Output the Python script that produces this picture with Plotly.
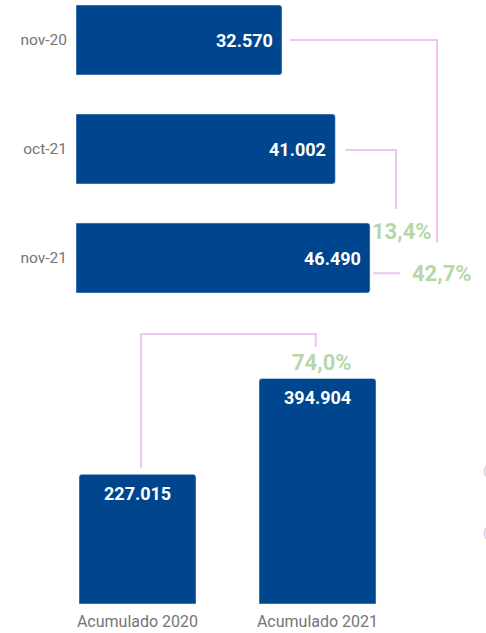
import plotly.graph_objects as go

# monthly comparison (top, horizontal bars)
months = ["nov-20", "oct-21", "nov-21"]
month_values = [32570, 41002, 46490]

# year-to-date totals (bottom, vertical bars)
totals_labels = ["Acumulado 2020", "Acumulado 2021"]
totals_values = [227015, 394904]

BLUE = "#00468E"
PINK = "#F1C2F6"
GREEN = "#B6D7A8"
GREY = "#757575"
FONT = "Roboto"

W, H = 486, 633


def fmt_num(v):
    return f"{v:,}".replace(",", ".")


def fmt_pct(a, b):
    return f"{(b / a - 1) * 100:.1f}".replace(".", ",") + "%"


def ypaper(px):
    return 1 - px / H


# pixel scale of the two value axes
XPX = 0.006325  # px per unit, top
YPX = 0.000571  # px per unit, bottom

fig = go.Figure()
fig.add_trace(go.Bar(
    y=months, x=month_values, orientation="h", marker_color=BLUE,
    width=0.642, xaxis="x", yaxis="y", hoverinfo="skip",
))
fig.add_trace(go.Bar(
    x=totals_labels, y=totals_values, marker_color=BLUE,
    width=0.65, xaxis="x2", yaxis="y2", hoverinfo="skip",
))

ann = []
for m, v in zip(months, month_values):
    ann.append(dict(x=v, y=m, xref="x", yref="y", text=f"<b>{fmt_num(v)}</b>",
                    xanchor="right", xshift=-7, showarrow=False,
                    font=dict(family=FONT, size=18, color="white")))
for c, v in zip(totals_labels, totals_values):
    ann.append(dict(x=c, y=v, xref="x2", yref="y2", text=f"<b>{fmt_num(v)}</b>",
                    yanchor="middle", yshift=-19, showarrow=False,
                    font=dict(family=FONT, size=18, color="white")))

# connectors (top)
v0, v1, v2 = month_values
line = dict(color=PINK, width=2)
shapes = [
    dict(type="path", xref="x", yref="y", line=line,
         path=f"M {v0 + 1260},0 L 57075,0 L 57075,1.86"),
    dict(type="path", xref="x", yref="y", line=line,
         path=f"M {v1 + 1580},1.01 L 50593,1.01 L 50593,1.55"),
    dict(type="path", xref="x", yref="y", line=line,
         path=f"M {v2 + 470},2.14 L 51225,2.14"),
]
ann.append(dict(x=52806, y=2.14, xref="x", yref="y", text=f"<b>{fmt_pct(v0, v2)}</b>",
                xanchor="left", showarrow=False,
                font=dict(family=FONT, size=22, color=GREEN)))
ann.append(dict(x=51542, y=1.76, xref="x", yref="y", text=f"<b>{fmt_pct(v1, v2)}</b>",
                showarrow=False, font=dict(family=FONT, size=22, color=GREEN)))

# connector (bottom)
t0, t1 = totals_values
shapes.append(dict(type="path", xref="x2", yref="y2", line=line,
                   path=f"M 0.02,{t0 + 11200} L 0.02,472855 L 0.99,472855 L 0.99,450088"))
ann.append(dict(x=1.025, y=423818, xref="x2", yref="y2", text=f"<b>{fmt_pct(t0, t1)}</b>",
                showarrow=False, font=dict(family=FONT, size=22, color=GREEN)))

# clipped marks at the right edge
for py in (480, 542):
    ann.append(dict(x=(W - 5) / W, y=ypaper(py), xref="paper", yref="paper",
                    text="(", xanchor="left", showarrow=False,
                    font=dict(family=FONT, size=13, color="#C8C8C8")))

fig.update_layout(
    width=W, height=H,
    margin=dict(l=0, r=0, t=0, b=0),
    paper_bgcolor="white", plot_bgcolor="white",
    showlegend=False,
    barcornerradius=3,
    font=dict(family=FONT, size=16, color=GREY),
    annotations=ann,
    shapes=shapes,
    xaxis=dict(domain=[76 / W, 1], range=[0, (W - 76) / XPX], visible=False,
               anchor="y"),
    yaxis=dict(domain=[ypaper(310), 1], range=[2.477, -0.367], anchor="x",
               type="category", showgrid=False, zeroline=False, showline=False,
               ticks="", ticklabelstandoff=8, tickfont=dict(size=15.5, color=GREY)),
    xaxis2=dict(domain=[47.5 / W, 407.5 / W], range=[-0.5, 1.5], anchor="y2",
                type="category", showgrid=False, zeroline=False, showline=False,
                ticks="", ticklabelstandoff=6, tickfont=dict(size=16, color=GREY)),
    yaxis2=dict(domain=[ypaper(604), ypaper(320)], range=[0, 284 / YPX],
                anchor="x2", visible=False),
)

fig.write_html(
    "out.html",
    config={"displayModeBar": False},
    post_script="document.body.style.margin='0';document.body.style.overflow='hidden';",
)
